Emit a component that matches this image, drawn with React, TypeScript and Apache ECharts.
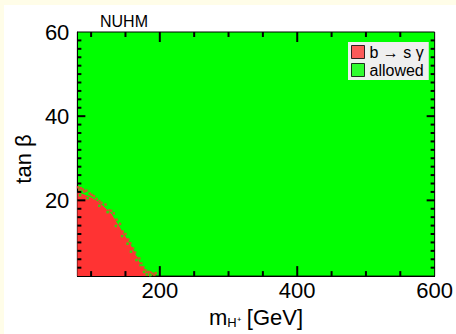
import React, { useEffect, useRef } from "react";
import * as echarts from "echarts";

// ---- data ----
const xMin = 80;
const xMax = 600;
const yMin = 2;
const yMax = 60;
const xLabelValues = [200, 400, 600];
const xMajorTicks = [200, 400];
const xMinorTicks = [100, 150, 250, 300, 350, 450, 500, 550];
const yLabelValues = [20, 40, 60];
const yMajorTicks = [20, 40];
const yMinorTicks = [4, 6, 8, 10, 12, 14, 16, 18, 22, 24, 26, 28, 30, 32, 34, 36, 38, 42, 44, 46, 48, 50, 52, 54, 56, 58];

// upper edge of the excluded (b -> s gamma) region
const boundaryMass = [80, 90, 100, 110, 120, 130, 140, 148, 155, 162, 170, 178, 184, 190];
const boundaryTanBeta = [21.9, 21.4, 20.7, 19.7, 18.3, 16.7, 14.1, 11.9, 10.2, 8.0, 5.4, 3.4, 2.6, 2.0];

// scattered scan points along the edge
const redSpeckMass = [81, 83, 85, 88, 90, 93, 98, 101, 104, 108, 112, 115, 121, 126, 129, 133, 137, 142, 146, 150, 154, 157, 161, 164, 166, 170, 173, 176, 179, 183, 186, 189, 192, 194];
const redSpeckTanBeta = [23.1, 22.5, 22.9, 22.6, 22.1, 22.3, 21.6, 21.3, 21.0, 20.3, 19.8, 19.4, 19.0, 17.6, 17.5, 16.9, 15.4, 14.4, 12.6, 12.0, 10.7, 9.8, 8.6, 7.6, 6.4, 6.2, 5.0, 4.1, 3.4, 3.0, 2.9, 2.6, 2.3, 2.7];
const greenSpeckMass = [84, 95, 112, 124, 136, 145, 153, 158, 166, 172, 177, 181, 186];
const greenSpeckTanBeta = [21.2, 20.5, 18.7, 17.2, 13.9, 11.5, 9.7, 7.8, 5.8, 4.6, 3.0, 2.4, 2.2];

const seriesNames = ["b \u2192 s \u03b3", "allowed"];
const titleText = "NUHM";

const FONT = "Liberation Sans";
const RED = "#ff3333";
const GREEN = "#00ff00";
const INK = "#000000";

function zip(a: number[], b: number[]) {
  return a.map((v, i) => [v, b[i]]);
}

// tick marks drawn as thin rect symbols placed through the axes' scales
function tickSeries(name: string, points: number[][], size: number[], offset: number[]) {
  return {
    name,
    type: "scatter",
    xAxisIndex: 0,
    yAxisIndex: 0,
    data: points,
    symbol: "rect",
    symbolSize: size,
    symbolOffset: offset,
    silent: true,
    clip: false,
    itemStyle: { color: INK, opacity: 1 },
    z: 5,
  };
}

export default function App() {
  const ref = useRef<HTMLDivElement>(null);
  useEffect(() => {
    if (!ref.current) return;
    const chart = echarts.init(ref.current, null, { renderer: "svg" });
    chart.setOption({
      animation: false,
      backgroundColor: "#ffffff",
      textStyle: { fontFamily: FONT },
      title: {
        text: titleText,
        left: 96,
        top: 8,
        padding: 0,
        textStyle: { fontSize: 16, fontWeight: "normal", color: "#000", fontFamily: FONT },
      },
      legend: {
        orient: "vertical",
        left: 344,
        top: 37,
        padding: [2, 5, 2, 3],
        itemWidth: 13,
        itemHeight: 13,
        itemGap: 2,
        backgroundColor: "#efefef",
        selectedMode: false,
        textStyle: { fontSize: 16, color: "#000", fontFamily: FONT },
        data: [
          { name: seriesNames[0], icon: "rect", itemStyle: { color: RED, borderColor: "#000", borderWidth: 1 } },
          { name: seriesNames[1], icon: "rect", itemStyle: { color: GREEN, borderColor: "#000", borderWidth: 1 } },
        ],
      },
      grid: {
        left: 59,
        top: 27,
        width: 374,
        height: 254,
        show: true,
        backgroundColor: GREEN,
        borderWidth: 1,
        borderColor: INK,
      },
      xAxis: {
        type: "value",
        min: xMin,
        max: xMax,
        axisLine: { show: true, onZero: false, lineStyle: { color: INK, width: 1 } },
        splitLine: { show: false },
        axisTick: { show: false },
        axisLabel: { show: true, customValues: xLabelValues, fontSize: 22, color: "#000", fontFamily: FONT, margin: 3 },
        name: "{m|m}{sub|H\u207a} {n|[GeV]}",
        nameLocation: "middle",
        nameGap: 19,
        nameTextStyle: {
          color: "#000",
          fontFamily: FONT,
          fontSize: 22,
          rich: {
            m: { fontSize: 22, fontFamily: FONT, color: "#000", lineHeight: 24 },
            sub: { fontSize: 13, fontFamily: FONT, color: "#000", lineHeight: 24, verticalAlign: "bottom", padding: [9, 0, 0, 0] },
            n: { fontSize: 22, fontFamily: FONT, color: "#000", lineHeight: 24 },
          },
        },
      },
      yAxis: {
        type: "value",
        min: yMin,
        max: yMax,
        axisLine: { show: true, onZero: false, lineStyle: { color: INK, width: 1 } },
        splitLine: { show: false },
        axisTick: { show: false },
        axisLabel: { show: true, customValues: yLabelValues, fontSize: 22, color: "#000", fontFamily: FONT, margin: 8 },
        name: "tan \u03b2",
        nameLocation: "middle",
        nameGap: 41,
        nameTextStyle: { color: "#000", fontFamily: FONT, fontSize: 22, padding: [0, 10, 0, 0] },
      },
      series: [
        {
          name: "bsgRegion",
          type: "line",
          data: zip(boundaryMass, boundaryTanBeta),
          symbol: "none",
          showSymbol: false,
          silent: true,
          lineStyle: { width: 0, color: RED },
          itemStyle: { color: RED },
          areaStyle: { color: RED, opacity: 1, origin: "start" },
          z: 2,
        },
        {
          name: seriesNames[0],
          type: "scatter",
          data: zip(redSpeckMass, redSpeckTanBeta),
          symbol: "rect",
          symbolSize: 2.5,
          silent: true,
          itemStyle: { color: RED },
          z: 3,
        },
        {
          name: seriesNames[1],
          type: "scatter",
          data: zip(greenSpeckMass, greenSpeckTanBeta),
          symbol: "rect",
          symbolSize: 2.5,
          silent: true,
          itemStyle: { color: GREEN },
          z: 3,
        },
        tickSeries("xMajorBottom", xMajorTicks.map((v) => [v, yMin]), [2, 10], [0, -5]),
        tickSeries("xMajorTop", xMajorTicks.map((v) => [v, yMax]), [2, 10], [0, 5]),
        tickSeries("xMinorBottom", xMinorTicks.map((v) => [v, yMin]), [2, 5], [0, -2.5]),
        tickSeries("xMinorTop", xMinorTicks.map((v) => [v, yMax]), [2, 5], [0, 2.5]),
        tickSeries("yMajorLeft", yMajorTicks.map((v) => [xMin, v]), [8, 2], [4, 0]),
        tickSeries("yMajorRight", yMajorTicks.map((v) => [xMax, v]), [8, 2], [-4, 0]),
        tickSeries("yMinorLeft", yMinorTicks.map((v) => [xMin, v]), [4, 2], [2, 0]),
        tickSeries("yMinorRight", yMinorTicks.map((v) => [xMax, v]), [4, 2], [-2, 0]),
      ],
    });
    return () => chart.dispose();
  }, []);
  return (
    <div style={{ position: "absolute", left: 0, top: 0, width: 456, height: 334, background: "#fffde8" }}>
      <div ref={ref} style={{ position: "absolute", left: 4, top: 5, width: 452, height: 329 }} />
    </div>
  );
}
